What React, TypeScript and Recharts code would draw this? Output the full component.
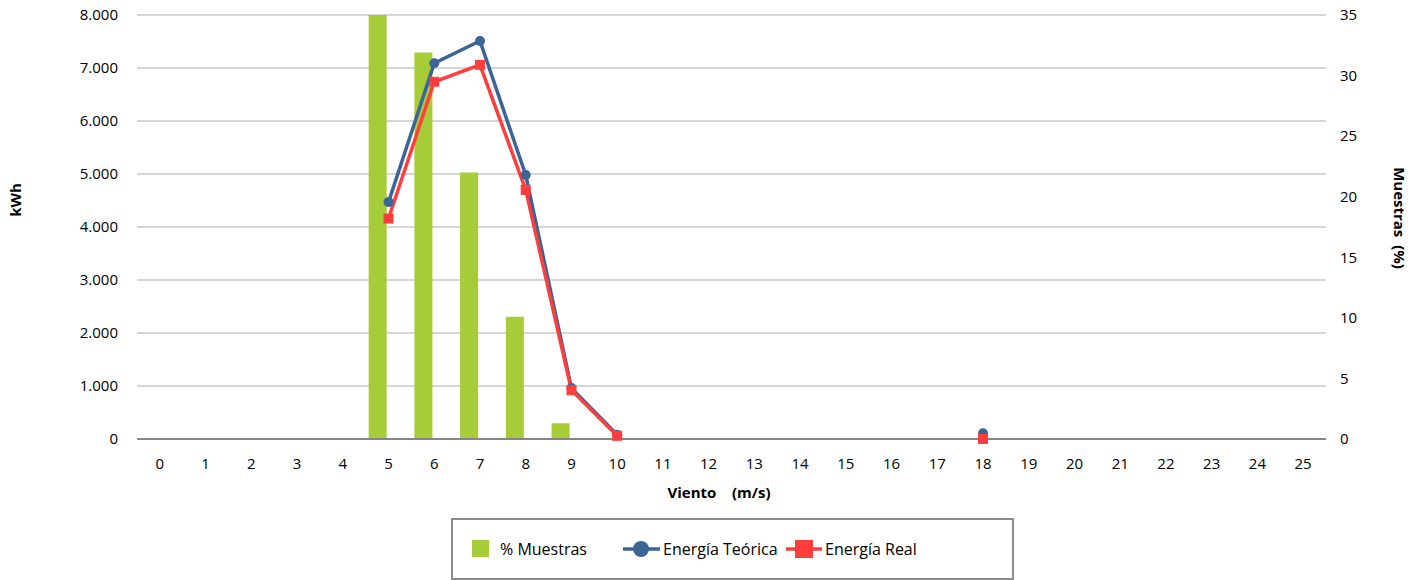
import { ComposedChart, Bar, Line, XAxis, YAxis, CartesianGrid } from 'recharts'

const viento = [0, 1, 2, 3, 4, 5, 6, 7, 8, 9, 10, 11, 12, 13, 14, 15, 16, 17, 18, 19, 20, 21, 22, 23, 24, 25]
const muestras = [0, 0, 0, 0, 0, 35, 31.9, 22, 10.1, 1.3, 0, 0, 0, 0, 0, 0, 0, 0, 0, 0, 0, 0, 0, 0, 0, 0]
// second (empty) column series of the original sheet, it keeps the green bars left of centre
const serieVacia = [0, 0, 0, 0, 0, 0, 0, 0, 0, 0, 0, 0, 0, 0, 0, 0, 0, 0, 0, 0, 0, 0, 0, 0, 0, 0]
const energiaTeorica = [null, null, null, null, null, 4470, 7090, 7510, 4980, 960, 80, null, null, null, null, null, null, null, 110, null, null, null, null, null, null, null]
const energiaReal = [null, null, null, null, null, 4160, 6740, 7060, 4700, 920, 60, null, null, null, null, null, null, null, 0, null, null, null, null, null, null, null]
const kwhTicks = [0, 1000, 2000, 3000, 4000, 5000, 6000, 7000, 8000]
const pctTicks = [0, 5, 10, 15, 20, 25, 30, 35]

const GREEN = '#a6cc38'
const BLUE = '#3b6597'
const RED = '#ff3d3d'
const FONT = '"Open Sans", sans-serif'

const data = viento.map((v, i) => ({
  v: String(v),
  muestras: muestras[i],
  vacia: serieVacia[i],
  teorica: energiaTeorica[i],
  real: energiaReal[i],
}))

const fmtKwh = (n: number) => String(n).replace(/\B(?=(\d{3})+(?!\d))/g, '.')

const tick = { fill: '#000', fontSize: 15, fontFamily: FONT }

function BlueDot(p: any) {
  if (p.cy == null || p.cx == null) return <g key={p.index} />
  return <circle key={p.index} cx={p.cx} cy={p.cy} r={5} fill={BLUE} />
}

function RedDot(p: any) {
  if (p.cy == null || p.cx == null) return <g key={p.index} />
  return <rect key={p.index} x={p.cx - 5} y={p.cy - 5} width={10} height={10} fill={RED} />
}

const titleStyle = { fontFamily: FONT, fontSize: 15, fontWeight: 700, fill: '#000' }

export default function App() {
  return (
    <div style={{ position: 'absolute', left: 0, top: 0, width: 1428, height: 580, background: '#fff' }}>
      <ComposedChart
        width={1428}
        height={580}
        data={data}
        margin={{ top: 15, right: 0, bottom: 81, left: 0 }}
      >
        <CartesianGrid vertical={false} stroke="#c8c8c8" strokeWidth={1.5} yAxisId="kwh" />
        <XAxis
          dataKey="v"
          interval={0}
          tickSize={0}
          tickMargin={19}
          height={60}
          tick={tick}
          axisLine={{ stroke: '#868686', strokeWidth: 2 }}
          label={{
            content: () => (
              <text x={719} y={492} textAnchor="middle" dominantBaseline="central" style={titleStyle}>
                Viento{'\u00a0\u00a0\u00a0\u00a0'}(m/s)
              </text>
            ),
          }}
        />
        <YAxis
          yAxisId="kwh"
          width={137}
          domain={[0, 8000]}
          ticks={kwhTicks}
          tickFormatter={fmtKwh}
          tickSize={0}
          tickMargin={19}
          axisLine={false}
          tick={tick}
          label={{
            content: () => (
              <text x={15} y={200} transform="rotate(-90 15 200)" textAnchor="middle" dominantBaseline="central" style={titleStyle}>
                kWh
              </text>
            ),
          }}
        />
        <YAxis
          yAxisId="pct"
          orientation="right"
          width={102}
          domain={[0, 35]}
          ticks={pctTicks}
          tickSize={0}
          tickMargin={14}
          axisLine={false}
          tick={{ ...tick, textAnchor: 'start' }}
          label={{
            content: () => (
              <text x={1400} y={218} transform="rotate(90 1400 218)" textAnchor="middle" dominantBaseline="central" style={titleStyle}>
                Muestras{'\u00a0\u00a0'}(%)
              </text>
            ),
          }}
        />
        <Bar yAxisId="pct" dataKey="muestras" fill={GREEN} barSize={18} isAnimationActive={false} />
        <Bar yAxisId="pct" dataKey="vacia" fill="none" barSize={18} isAnimationActive={false} />
        <Line
          yAxisId="kwh"
          dataKey="teorica"
          stroke={BLUE}
          strokeWidth={3.5}
          dot={BlueDot}
          activeDot={false}
          connectNulls={false}
          isAnimationActive={false}
          type="linear"
        />
        <Line
          yAxisId="kwh"
          dataKey="real"
          stroke={RED}
          strokeWidth={3.5}
          dot={RedDot}
          activeDot={false}
          connectNulls={false}
          isAnimationActive={false}
          type="linear"
        />
      </ComposedChart>

      <div
        style={{
          position: 'absolute',
          left: 451,
          top: 518,
          width: 563,
          height: 62,
          border: '2px solid #8c8c8c',
          boxSizing: 'border-box',
          fontFamily: FONT,
          fontSize: 16,
          color: '#000',
        }}
      >
        <svg style={{ position: 'absolute', left: 0, top: 0 }} width={559} height={58}>
          <rect x={19} y={20} width={17} height={17} fill={GREEN} />
          <line x1={170} y1={29} x2={207} y2={29} stroke={BLUE} strokeWidth={3.5} />
          <circle cx={188} cy={29} r={8} fill={BLUE} />
          <line x1={333} y1={29} x2={369} y2={29} stroke={RED} strokeWidth={3.5} />
          <rect x={342} y={20} width={18} height={18} fill={RED} />
        </svg>
        <span style={{ position: 'absolute', left: 47, top: 18, lineHeight: '22px' }}>% Muestras</span>
        <span style={{ position: 'absolute', left: 210, top: 18, lineHeight: '22px' }}>Energía Teórica</span>
        <span style={{ position: 'absolute', left: 372, top: 18, lineHeight: '22px' }}>Energía Real</span>
      </div>
    </div>
  )
}
